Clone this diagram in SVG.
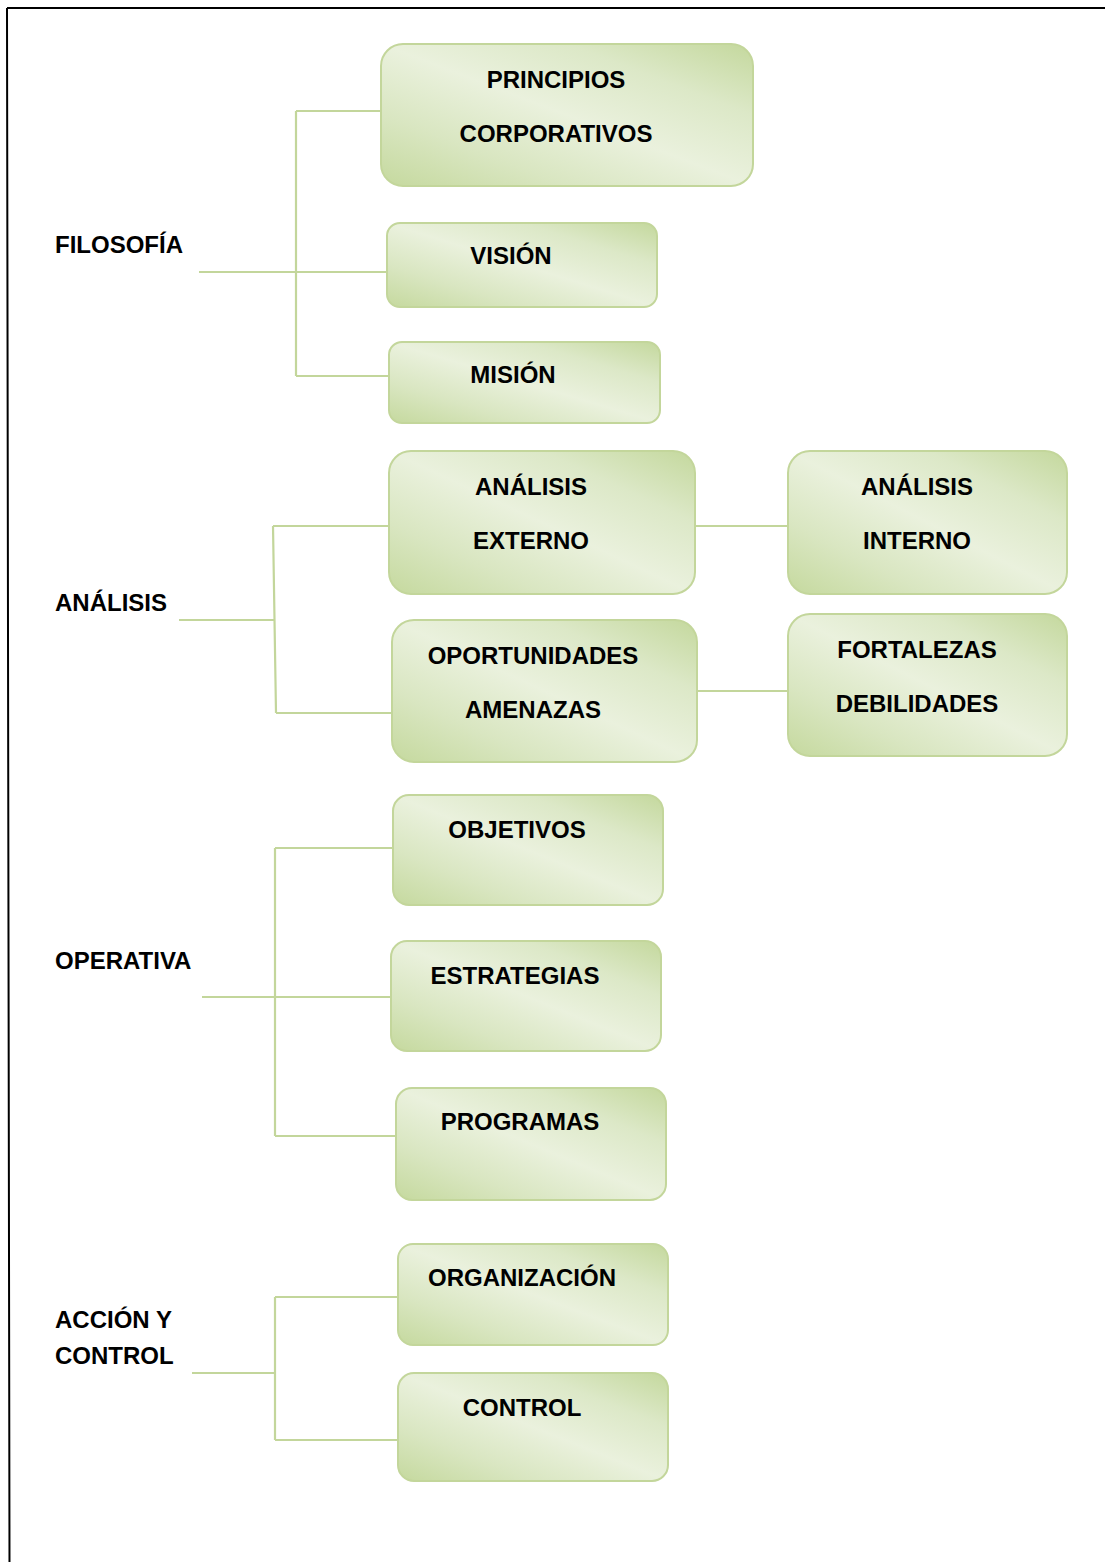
<svg xmlns="http://www.w3.org/2000/svg" width="1105" height="1562" viewBox="0 0 1105 1562">
  <style>
    .box { stroke: #c3d69b; stroke-width: 2; fill: url(#boxFill); }
    .t { font-family: "Liberation Sans", Arial, sans-serif; font-weight: bold; font-size: 24px; fill: #000; }
    .c { text-anchor: middle; }
    .link { stroke: #c3d69b; stroke-width: 2.2; fill: none; }
    .frame { stroke: #000; stroke-width: 2; fill: none; }
  </style>
  <defs>
    <linearGradient id="boxFill" x1="0" y1="1" x2="1" y2="0">
      <stop offset="0" stop-color="#c5d99e"/>
      <stop offset="0.25" stop-color="#d9e6c1"/>
      <stop offset="0.5" stop-color="#eaf1dd"/>
      <stop offset="0.75" stop-color="#dce8c7"/>
      <stop offset="1" stop-color="#c4d89d"/>
    </linearGradient>
  </defs>
  <rect width="1105" height="1562" fill="#fff"/>

  <!-- page border -->
  <path class="frame" d="M7 8 H1105 M7 8 L9.5 1562"/>

  <!-- connectors -->
  <g id="connectors">
    <path class="link" d="M199 272 H387 M296 111 V376 M296 111 H381 M296 376 H389"/>
    <path class="link" d="M179 620 H274 M273 526 L276 713 M273 526 H389 M276 713 H392 M695 526 H788 M697 691 H788"/>
    <path class="link" d="M202 997 H391 M275 848 V1136 M275 848 H393 M275 1136 H396"/>
    <path class="link" d="M192 1373 H275 M275 1297 V1440 M275 1297 H398 M275 1440 H398"/>
  </g>

  <!-- group labels -->
  <g id="filosofia"><text class="t" x="55" y="253">FILOSOFÍA</text></g>
  <g id="analisis"><text class="t" x="55" y="611">ANÁLISIS</text></g>
  <g id="operativa"><text class="t" x="55" y="969">OPERATIVA</text></g>
  <g id="accion-control">
    <text class="t" x="55" y="1328">ACCIÓN Y</text>
    <text class="t" x="55" y="1364">CONTROL</text>
  </g>

  <!-- nodes -->
  <g id="principios">
    <rect class="box" x="381" y="44" width="372" height="142" rx="22"/>
    <text class="t c" x="556" y="88">PRINCIPIOS</text>
    <text class="t c" x="556" y="142">CORPORATIVOS</text>
  </g>
  <g id="vision">
    <rect class="box" x="387" y="223" width="270" height="84" rx="13"/>
    <text class="t c" x="511" y="264">VISIÓN</text>
  </g>
  <g id="mision">
    <rect class="box" x="389" y="342" width="271" height="81" rx="13"/>
    <text class="t c" x="513" y="383">MISIÓN</text>
  </g>
  <g id="analisis-externo">
    <rect class="box" x="389" y="451" width="306" height="143" rx="22"/>
    <text class="t c" x="531" y="495">ANÁLISIS</text>
    <text class="t c" x="531" y="549">EXTERNO</text>
  </g>
  <g id="analisis-interno">
    <rect class="box" x="788" y="451" width="279" height="143" rx="22"/>
    <text class="t c" x="917" y="495">ANÁLISIS</text>
    <text class="t c" x="917" y="549">INTERNO</text>
  </g>
  <g id="oportunidades">
    <rect class="box" x="392" y="620" width="305" height="142" rx="22"/>
    <text class="t c" x="533" y="664">OPORTUNIDADES</text>
    <text class="t c" x="533" y="718">AMENAZAS</text>
  </g>
  <g id="fortalezas">
    <rect class="box" x="788" y="614" width="279" height="142" rx="22"/>
    <text class="t c" x="917" y="658">FORTALEZAS</text>
    <text class="t c" x="917" y="712">DEBILIDADES</text>
  </g>
  <g id="objetivos">
    <rect class="box" x="393" y="795" width="270" height="110" rx="16"/>
    <text class="t c" x="517" y="838">OBJETIVOS</text>
  </g>
  <g id="estrategias">
    <rect class="box" x="391" y="941" width="270" height="110" rx="16"/>
    <text class="t c" x="515" y="984">ESTRATEGIAS</text>
  </g>
  <g id="programas">
    <rect class="box" x="396" y="1088" width="270" height="112" rx="16"/>
    <text class="t c" x="520" y="1130">PROGRAMAS</text>
  </g>
  <g id="organizacion">
    <rect class="box" x="398" y="1244" width="270" height="101" rx="15"/>
    <text class="t c" x="522" y="1286">ORGANIZACIÓN</text>
  </g>
  <g id="control">
    <rect class="box" x="398" y="1373" width="270" height="108" rx="16"/>
    <text class="t c" x="522" y="1416">CONTROL</text>
  </g>
</svg>
